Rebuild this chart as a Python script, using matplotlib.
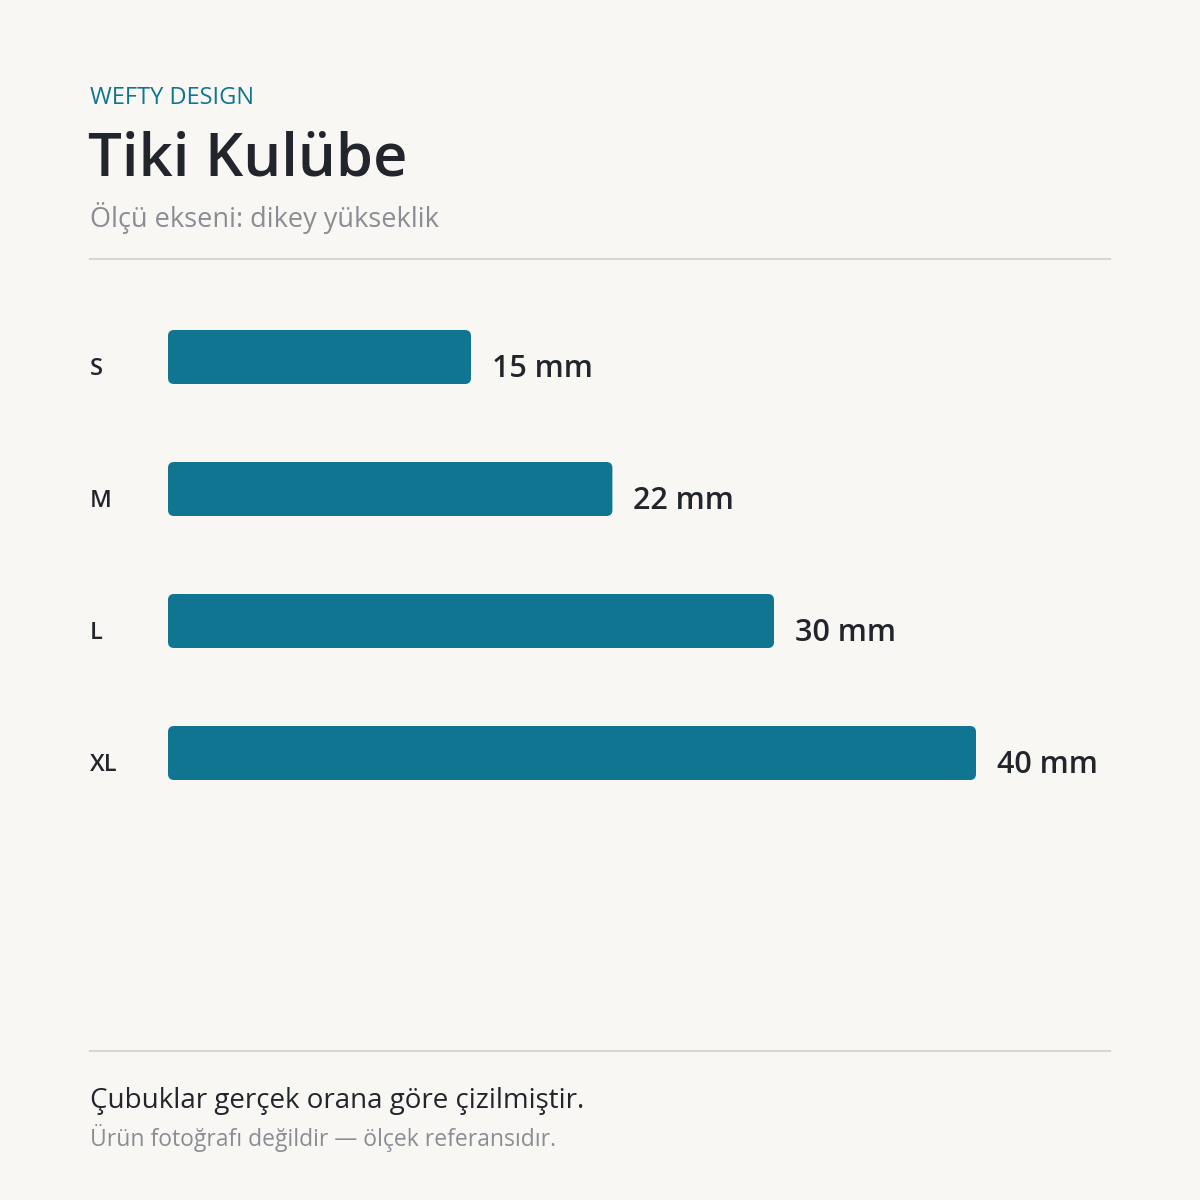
import matplotlib
matplotlib.use("Agg")
import matplotlib.pyplot as plt
from matplotlib.patches import FancyBboxPatch
from matplotlib.lines import Line2D
import matplotlib.transforms as mtrans

sizes = ["S", "M", "L", "XL"]
heights_mm = [15, 22, 30, 40]
value_labels = ["15 mm", "22 mm", "30 mm", "40 mm"]

BG = "#f8f7f4"
TEAL = "#107591"
DARK = "#22252b"
GREY = "#8a8d93"
RULE = "#d6d6d4"
FONT = ["Open Sans", "DejaVu Sans"]
plt.rcParams["font.family"] = FONT

W = H = 1200
fig = plt.figure(figsize=(12, 12), dpi=100, facecolor=BG)

def fx(px):
    return px / W

def fy(py):
    return 1 - py / H

# header
fig.text(fx(90), fy(98), "WEFTY DESIGN", color=TEAL, fontsize=17, va="center")
fig.text(fx(88), fy(160), "Tiki Kulübe", color=DARK, fontsize=43, fontweight="semibold", va="center")
fig.text(fx(90), fy(218), "Ölçü ekseni: dikey yükseklik", color=GREY, fontsize=19.5, va="center")
fig.add_artist(Line2D([fx(90), fx(1110)], [fy(259), fy(259)], color=RULE, lw=1.5))

# bars
px_per_mm = 20.2
ax = fig.add_axes([fx(168), fy(819), fx(1110) - fx(168), (819 - 291) / H])
ax.set_facecolor("none")
ax.set_xlim(0, 942 / px_per_mm)
ax.set_ylim(len(sizes) - 0.5, -0.5)
ax.axis("off")
bh = 54 / 132
rx = 6 / px_per_mm
aspect = (6 / 132) / rx
lbl_tr = mtrans.blended_transform_factory(fig.transFigure, ax.transData)
for i, (s, v, t) in enumerate(zip(sizes, heights_mm, value_labels)):
    ax.add_patch(FancyBboxPatch((0, i - bh / 2), v, bh,
                                boxstyle=f"round,pad=0,rounding_size={rx}",
                                mutation_aspect=aspect, fc=TEAL, ec="none"))
    ax.text(v + 21 / px_per_mm, i + 0.09, t, color=DARK, fontsize=22,
            fontweight="semibold", va="center", ha="left")
    ax.text(fx(90), i + 0.09, s, transform=lbl_tr, color=DARK, fontsize=17,
            fontweight="semibold", va="center", ha="left")

# footer
fig.add_artist(Line2D([fx(90), fx(1110)], [fy(1051), fy(1051)], color=RULE, lw=1.5))
fig.text(fx(90), fy(1101), "Çubuklar gerçek orana göre çizilmiştir.", color=DARK, fontsize=20, va="center")
fig.text(fx(90), fy(1138), "Ürün fotoğrafı değildir — ölçek referansıdır.", color=GREY, fontsize=16.5, va="center")

fig.savefig("out.png", dpi=100, facecolor=BG)
